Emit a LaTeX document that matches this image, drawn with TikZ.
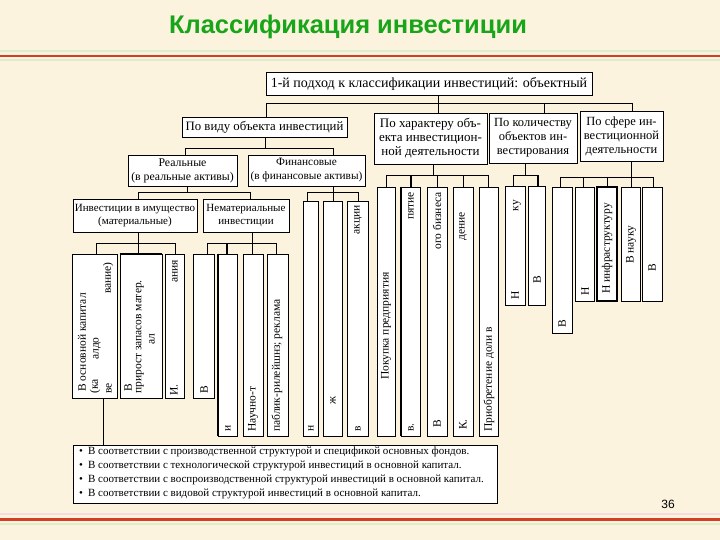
\documentclass[tikz,border=0pt]{standalone}
\usepackage{fontspec}
\setmainfont{Liberation Serif}
\newfontfamily\sansf{Liberation Sans}
\usetikzlibrary{fit,shadows}
\definecolor{bgc}{RGB}{252,243,222}
\definecolor{ttl}{RGB}{25,165,25}
\definecolor{redl}{RGB}{212,62,38}
\definecolor{paleg}{RGB}{222,238,205}
\definecolor{palep}{RGB}{246,218,222}
\tikzset{
 box/.style={draw=black, line width=0.7pt, fill=white, inner sep=0pt, align=center, font=\fontsize{12.5}{14}\selectfont},
 shad/.style={drop shadow={shadow xshift=1.3pt, shadow yshift=-1.3pt, fill=black!40, opacity=1}},
 leafbox/.style={draw=black, line width=0.7pt, fill=white, inner sep=0pt},
 lt/.style={rotate=90, inner sep=0pt, font=\fontsize{11.5}{12}\selectfont},
 conn/.style={line width=0.7pt},
 boldc/.style={line width=1.8pt},
}
\begin{document}
\begin{tikzpicture}[x=1pt,y=-1pt]
\fill[bgc] (0,0) rectangle (720,540);
\useasboundingbox (0,0) rectangle (720,540);
% decorative rules
\draw[paleg, line width=1.5pt] (0,51) -- (720,51);
\draw[redl, line width=2.5pt] (0,56) -- (720,56);
\draw[paleg, line width=1.2pt] (0,60) -- (720,60);
\draw[palep, line width=1.5pt] (0,514) -- (720,514);
\draw[redl, line width=3pt] (0,519) -- (720,519);
\draw[paleg, line width=1.2pt] (0,524) -- (720,524);
% title and page number
\node[font=\sansf\bfseries\fontsize{25.5}{28}\selectfont, text=ttl] (title) at (348,27) {Классификация инвестиции};
\node[font=\sansf\fontsize{12}{14}\selectfont] (pg) at (668,504) {36};

% level boxes
\node[box, shad, minimum width=326pt, minimum height=23pt, font=\fontsize{14}{15}\selectfont] (top) at (429,83.5) {1-й подход к классификации инвестиций: объектный};
\node[box, shad, minimum width=165pt, minimum height=20pt, font=\fontsize{12.8}{14}\selectfont] (vid) at (264.5,127) {По виду объекта инвестиций};
\node[box, shad, minimum width=113pt, minimum height=51pt, font=\fontsize{13}{14}\selectfont] (har) at (430.5,138.5) {По характеру объ-\\екта инвестицион-\\ной деятельности};
\node[box, shad, minimum width=88pt, minimum height=50pt] (kol) at (533,138) {По количеству\\объектов ин-\\вестирования};
\node[box, shad, minimum width=83pt, minimum height=50pt] (sf) at (621.5,136) {По сфере ин-\\вестиционной\\деятельности};
\node[box, shad, minimum width=109pt, minimum height=31pt, font=\fontsize{11.8}{14}\selectfont] (real) at (182.5,170.5) {Реальные\\(в реальные активы)};
\node[box, shad, minimum width=117pt, minimum height=31pt, font=\fontsize{11.3}{14}\selectfont] (fin) at (306.5,170.5) {Финансовые\\(в финансовые активы)};
\node[box, shad, minimum width=124pt, minimum height=33pt, font=\fontsize{11}{13}\selectfont] (inv) at (135,215.5) {Инвестиции в имущество\\(материальные)};
\node[box, shad, minimum width=86pt, minimum height=33pt, font=\fontsize{11}{13}\selectfont] (nem) at (246,215.5) {Нематериальные\\инвестиции};

% leaves
\node[leafbox, fit={(72,254) (117,398)}] (A) {};
\node[leafbox, fit={(120,254) (162,398)}] (B) {};
\node[leafbox, fit={(165,254) (184,398)}] (C) {};
\node[leafbox, fit={(193,254) (214,398)}] (D) {};
\node[leafbox, fit={(218,254) (237,436)}] (E) {};
\node[leafbox, fit={(243,254) (263,436)}] (F) {};
\node[leafbox, fit={(267,254) (288,436)}] (G) {};
\node[leafbox, fit={(303,201) (318,436)}] (F1) {};
\node[leafbox, fit={(323,201) (342,436)}] (F2) {};
\node[leafbox, fit={(347,201) (368,436)}] (F3) {};
\node[leafbox, fit={(377,187) (395,436)}] (C1) {};
\node[leafbox, fit={(401,187) (420,436)}] (C2) {};
\node[leafbox, fit={(427,187) (447,436)}] (C3) {};
\node[leafbox, fit={(453,187) (473,436)}] (C4) {};
\node[leafbox, fit={(479,187) (498,436)}] (C5) {};
\node[leafbox, fit={(505,186) (525,305)}] (Q1) {};
\node[leafbox, fit={(528,186) (545,305)}] (Q2) {};
\node[leafbox, fit={(552,187) (572,333)}] (S1) {};
\node[leafbox, fit={(575,187) (594,301)}] (S2) {};
\node[leafbox, fit={(597,187) (617,301)}, line width=1.4pt] (S3) {};
\node[leafbox, fit={(621,187) (640,301)}] (S4) {};
\node[leafbox, fit={(642,187) (662,301)}] (S5) {};
\draw[boldc] (E.north west) -- (E.south west);
\draw[boldc] (C2.north west) -- (C2.south west);
\draw[boldc] (B.north west) -- (B.north east);

% leaf texts
\node[lt, anchor=west] (tA1) at (82,392) {В основной капитал};
\node[lt, anchor=west] (tA2) at (95,394) {(ка};
\node[lt, anchor=west] (tA3) at (97,360) {алдо};
\node[lt, anchor=east] (tA4) at (108,262) {вание)};
\node[lt, anchor=west] (tA5) at (109,394) {ве};
\node[lt, anchor=west] (tB1) at (128,392) {В};
\node[lt, anchor=west] (tB2) at (140,394) {прирост запасов матер.};
\node[lt, anchor=west] (tB3) at (152,345) {ал};
\node[lt, anchor=west] (tC1) at (174,396) {И.};
\node[lt, anchor=east] (tC2) at (175,260) {ания};
\node[lt, anchor=west] (tD) at (204,394) {В};
\node[lt, anchor=west] (tE) at (228,432) {и};
\node[lt, anchor=west] (tF) at (253,432) {Научно-т};
\node[lt, anchor=west] (tG) at (277,432) {паблик-рилейшнз; реклама};
\node[lt, anchor=west] (tF1) at (311,432) {н};
\node[lt, anchor=west] (tF2) at (333,405) {ж};
\node[lt, anchor=east] (tF3a) at (358,205) {акции};
\node[lt, anchor=west] (tF3b) at (358,432) {в};
\node[lt, anchor=west] (tC1t) at (386,380) {Покупка предприятия};
\node[lt, anchor=east] (tC2a) at (411,192) {пятие};
\node[lt, anchor=west] (tC2b) at (411,432) {в.};
\node[lt, anchor=east] (tC3a) at (437,192) {ого бизнеса};
\node[lt, anchor=west] (tC3b) at (437,428) {В};
\node[lt, anchor=east] (tC4a) at (463,212) {дение};
\node[lt, anchor=west] (tC4b) at (463,430) {К.};
\node[lt, anchor=west] (tC5) at (489,432) {Приобретение доли в};
\node[lt, anchor=west] (tQ1a) at (515,300) {Н};
\node[lt, anchor=east] (tQ1b) at (517,200) {ку};
\node[lt, anchor=west] (tQ2) at (537,284) {В};
\node[lt, anchor=west] (tS1) at (562,328) {В};
\node[lt, anchor=west] (tS2) at (585,296) {Н};
\node[lt, anchor=west] (tS3) at (607,294) {Н инфраструктуру};
\node[lt, anchor=west] (tS4) at (631,264) {В науку};
\node[lt, anchor=west] (tS5) at (652,272) {В};

% bullet list
\node[box, shad, minimum width=424pt, minimum height=58pt] (bul) at (285,474) {};
\node[anchor=north west, align=left, inner sep=0pt, font=\fontsize{11}{14}\selectfont] (bt) at (79,447) {%
\textbullet\hspace{5pt}В соответствии с производственной структурой и спецификой основных фондов.\\
\textbullet\hspace{5pt}В соответствии с технологической структурой инвестиций в основной капитал.\\
\textbullet\hspace{5pt}В соответствии с воспроизводственной структурой инвестиций в основной капитал.\\
\textbullet\hspace{5pt}В соответствии с видовой структурой инвестиций в основной капитал.};

% connectors: level 1
\coordinate (t0) at (438,103);
\coordinate (tL) at (266,103);
\coordinate (tK) at (544,103);
\coordinate (tS) at (632,103);
\draw[conn] (top.south -| t0) -- (har.north -| t0);
\draw[conn] (tL) -- (tS);
\draw[conn] (tL) -- (vid.north -| tL);
\draw[conn] (tK) -- (kol.north -| tK);
\draw[conn] (tS) -- (sf.north -| tS);
% vid
\coordinate (v0) at (265,148);
\coordinate (vL) at (185,148);
\coordinate (vR) at (333,148);
\draw[conn] (vid.south -| v0) -- (v0);
\draw[conn] (vL) -- (vR);
\draw[conn] (vL) -- (real.north -| vL);
\draw[conn] (vR) -- (fin.north -| vR);
% real
\coordinate (r0) at (187,192);
\coordinate (rL) at (138,192);
\coordinate (rR) at (250,192);
\draw[conn] (real.south -| r0) -- (r0);
\draw[conn] (rL) -- (rR);
\draw[conn] (rL) -- (inv.north -| rL);
\draw[conn] (rR) -- (nem.north -| rR);
% fin
\coordinate (f0) at (333,192);
\coordinate (f1) at (307,192);
\coordinate (f3) at (358,192);
\draw[conn] (fin.south -| f0) -- (f0);
\draw[conn] (f1) -- (f3);
\draw[conn] (f1) -- (F1.north -| f1);
\draw[conn] (f0) -- (F2.north -| f0);
\draw[conn] (f3) -- (F3.north -| f3);
% inv
\coordinate (i1) at (96,243);
\coordinate (i2) at (138,243);
\coordinate (i3) at (175,243);
\draw[conn] (inv.south -| i2) -- (i2);
\draw[conn] (i1) -- (i3);
\draw[conn] (i1) -- (A.north -| i1);
\draw[conn] (i2) -- (B.north -| i2);
\draw[conn] (i3) -- (C.north -| i3);
% nem
\coordinate (n1) at (207,243);
\coordinate (n2) at (227,243);
\coordinate (n3) at (252,243);
\coordinate (n4) at (276,243);
\draw[conn] (nem.south -| n3) -- (n3);
\draw[conn] (n1) -- (n4);
\draw[conn] (n1) -- (D.north -| n1);
\draw[boldc] (n2) -- (E.north -| n2);
\draw[conn] (n3) -- (F.north -| n3);
\draw[conn] (n4) -- (G.north -| n4);
% har
\coordinate (c0) at (433,175);
\coordinate (c1) at (386,175);
\coordinate (c2) at (411,175);
\coordinate (c3) at (437,175);
\coordinate (c4) at (463,175);
\coordinate (c5) at (488,175);
\draw[conn] (har.south -| c0) -- (c0);
\draw[conn] (c1) -- (c5);
\draw[conn] (c1) -- (C1.north -| c1);
\draw[boldc] (c2) -- (C2.north -| c2);
\draw[conn] (c3) -- (C3.north -| c3);
\draw[conn] (c4) -- (C4.north -| c4);
\draw[conn] (c5) -- (C5.north -| c5);
% kol
\coordinate (k0) at (525,175);
\coordinate (k1) at (513,175);
\coordinate (k2) at (538,175);
\draw[conn] (kol.south -| k0) -- (k0);
\draw[conn] (k1) -- (k2);
\draw[conn] (k1) -- (Q1.north -| k1);
\draw[boldc] (k2) -- (Q2.north -| k2);
% sf
\coordinate (s1) at (560,177);
\coordinate (s2) at (583,177);
\coordinate (s3) at (607,177);
\coordinate (s4) at (631,177);
\coordinate (s5) at (653,177);
\draw[conn] (sf.south -| s4) -- (s4);
\draw[conn] (s1) -- (s5);
\draw[conn] (s1) -- (S1.north -| s1);
\draw[conn] (s2) -- (S2.north -| s2);
\draw[conn] (s3) -- (S3.north -| s3);
\draw[conn] (s4) -- (S4.north -| s4);
\draw[conn] (s5) -- (S5.north -| s5);
% link to list
\coordinate (aj) at (103,420);
\draw[conn] (A.south -| aj) -- (bul.north -| aj);
\end{tikzpicture}
\end{document}
